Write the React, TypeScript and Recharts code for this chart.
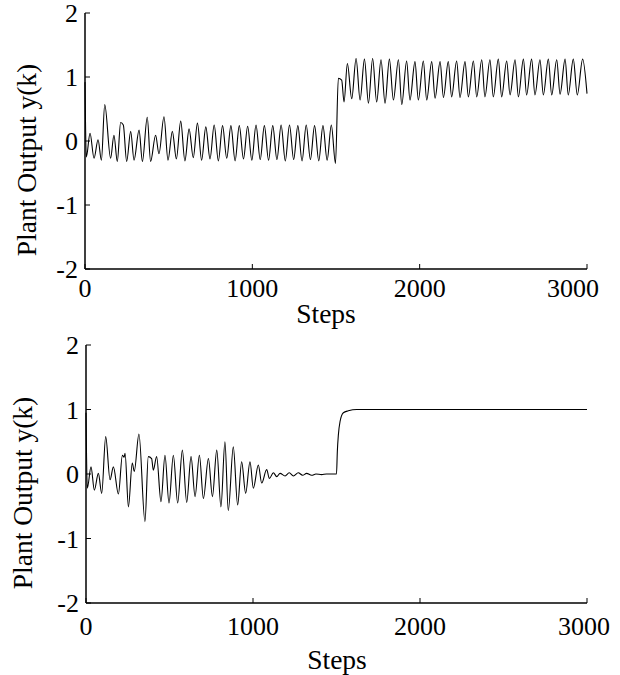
import React from 'react'
import { LineChart, Line, XAxis, YAxis } from 'recharts'

const FONT = '"Liberation Serif", "Times New Roman", serif'

const xTicks = [0, 1000, 2000, 3000]
const yTicks = [-2, -1, 0, 1, 2]

// upper plot, before the setpoint change (peaks / troughs)
const topStepsA = [0, 8, 30, 54, 78, 98, 118, 153, 173, 193, 213, 229, 249, 273, 293, 323, 343, 372, 392, 422, 442, 472, 496, 522, 546, 572, 597, 622, 647, 672, 697, 722, 747, 772, 797, 822, 847, 872, 897, 922, 947, 972, 997, 1022, 1047, 1072, 1097, 1122, 1147, 1172, 1197, 1222, 1247, 1272, 1297, 1322, 1347, 1372, 1397, 1422, 1447, 1472, 1497]
const topValuesA = [0.92, -0.25, 0.12, -0.27, 0.02, -0.3, 0.57, -0.27, 0.09, -0.32, 0.29, 0.25, -0.32, 0.15, -0.3, 0.17, -0.32, 0.37, -0.32, 0.09, -0.2, 0.38, -0.3, 0.15, -0.28, 0.31, -0.31, 0.19, -0.26, 0.28, -0.3, 0.22, -0.28, 0.25, -0.31, 0.24, -0.27, 0.24, -0.31, 0.24, -0.28, 0.23, -0.3, 0.25, -0.29, 0.24, -0.3, 0.24, -0.29, 0.25, -0.31, 0.25, -0.29, 0.24, -0.31, 0.25, -0.29, 0.24, -0.31, 0.24, -0.3, 0.25, -0.35]

// upper plot, after the setpoint change
const topStepsB = [1514, 1534, 1548, 1568, 1594, 1620, 1644, 1670, 1694, 1719, 1743, 1769, 1793, 1819, 1843, 1873, 1893, 1922, 1942, 1972, 1992, 2022, 2042, 2072, 2092, 2122, 2142, 2171, 2191, 2221, 2241, 2271, 2291, 2321, 2341, 2371, 2390, 2420, 2440, 2470, 2490, 2520, 2540, 2570, 2590, 2620, 2639, 2669, 2689, 2719, 2739, 2769, 2789, 2819, 2839, 2869, 2888, 2918, 2942, 2974, 3000]
const topValuesB = [0.98, 0.95, 0.61, 1.21, 0.66, 1.29, 0.64, 1.28, 0.59, 1.29, 0.61, 1.27, 0.59, 1.28, 0.64, 1.27, 0.57, 1.25, 0.64, 1.24, 0.64, 1.25, 0.64, 1.24, 0.67, 1.24, 0.68, 1.24, 0.69, 1.25, 0.68, 1.24, 0.69, 1.25, 0.69, 1.27, 0.69, 1.27, 0.69, 1.28, 0.69, 1.25, 0.72, 1.27, 0.69, 1.28, 0.72, 1.28, 0.72, 1.27, 0.72, 1.28, 0.72, 1.27, 0.73, 1.28, 0.72, 1.28, 0.72, 1.28, 0.74]

// lower plot, oscillation dying out
const botStepsA = [0, 8, 30, 50, 74, 94, 118, 144, 164, 194, 218, 228, 234, 254, 277, 289, 317, 353, 373, 393, 403, 423, 449, 473, 497, 523, 549, 577, 603, 629, 653, 679, 703, 733, 757, 783, 808, 832, 852, 882, 908, 932, 956, 982, 1002, 1032, 1052, 1082, 1098, 1122, 1142]
const botValuesA = [0.95, -0.22, 0.11, -0.25, 0.01, -0.3, 0.58, -0.09, 0.11, -0.31, 0.29, 0.26, 0.32, -0.51, 0.17, 0.04, 0.62, -0.74, 0.27, 0.24, 0.06, 0.27, -0.43, 0.29, -0.45, 0.29, -0.45, 0.37, -0.44, 0.27, -0.35, 0.29, -0.38, 0.24, -0.35, 0.37, -0.51, 0.5, -0.57, 0.42, -0.48, 0.19, -0.3, 0.19, -0.22, 0.14, -0.14, 0.07, -0.07, 0.02, -0.04]

// lower plot, settled then step to 1
const botStepsB = [1162, 1192, 1217, 1242, 1271, 1297, 1321, 1351, 1377, 1411, 1440, 1500, 1505, 1511, 1521, 1541, 1571, 1621, 3000]
const botValuesB = [0.01, -0.03, 0.02, -0.03, 0.02, -0.02, 0.01, -0.02, 0, -0.01, 0, 0, 0.35, 0.6, 0.81, 0.95, 0.98, 1, 1]

const toRows = (steps: number[], values: number[]) => steps.map((s, i) => ({ step: s, y: values[i] }))

const topRows = [...toRows(topStepsA, topValuesA), ...toRows(topStepsB, topValuesB)]
const botRows = [...toRows(botStepsA, botValuesA), ...toRows(botStepsB, botValuesB)]

const frame = { stroke: '#000', strokeWidth: 1.5 }
const TICK_FONT = 26
const LABEL_FONT = 27.5

function BottomTick(props: any) {
  const { x, y, payload, gap, lastShift } = props
  const dx = payload.value === 3000 ? lastShift : 0
  return (
    <g>
      <line x1={x} x2={x} y1={y} y2={y - 5} stroke="#000" />
      <text x={x + dx} y={y + gap} textAnchor="middle" fontSize={TICK_FONT} fontFamily={FONT} fill="#000">
        {payload.value}
      </text>
    </g>
  )
}

function TopTick(props: any) {
  const { x, y } = props
  return <line x1={x} x2={x} y1={y} y2={y + 5} stroke="#000" />
}

function LeftTick(props: any) {
  const { x, y, payload } = props
  return (
    <g>
      <line x1={x} x2={x + 5} y1={y} y2={y} stroke="#000" />
      <text x={x - 7} y={y + 9} textAnchor="end" fontSize={TICK_FONT} fontFamily={FONT} fill="#000">
        {payload.value}
      </text>
    </g>
  )
}

function RightTick(props: any) {
  const { x, y } = props
  return <line x1={x} x2={x - 5} y1={y} y2={y} stroke="#000" />
}

function Panel({ rows, top, height, marginTop, yWidth, xHeight, labelGap, lastShift }: any) {
  return (
    <div style={{ position: 'absolute', left: 0, top }}>
      <LineChart width={620} height={height} data={rows} margin={{ top: marginTop, right: 33, bottom: 0, left: 0 }}>
        <XAxis
          dataKey="step"
          type="number"
          domain={[0, 3000]}
          ticks={xTicks}
          interval={0}
          height={xHeight}
          tickSize={0}
          tickMargin={0}
          tickLine={false}
          axisLine={frame}
          tick={(p: any) => <BottomTick {...p} gap={labelGap} lastShift={lastShift} />}
        />
        <XAxis
          xAxisId="top"
          orientation="top"
          dataKey="step"
          type="number"
          domain={[0, 3000]}
          ticks={xTicks}
          interval={0}
          height={0}
          tickSize={0}
          tickMargin={0}
          tickLine={false}
          axisLine={frame}
          tick={(p: any) => <TopTick {...p} />}
        />
        <YAxis
          type="number"
          domain={[-2, 2]}
          ticks={yTicks}
          interval={0}
          width={yWidth}
          tickSize={0}
          tickMargin={0}
          tickLine={false}
          axisLine={frame}
          tick={(p: any) => <LeftTick {...p} />}
        />
        <YAxis
          yAxisId="right"
          orientation="right"
          type="number"
          domain={[-2, 2]}
          ticks={yTicks}
          interval={0}
          width={0}
          tickSize={0}
          tickMargin={0}
          tickLine={false}
          axisLine={frame}
          tick={(p: any) => <RightTick {...p} />}
        />
        <Line dataKey="y" type="monotone" dot={false} stroke="#000" strokeWidth={1.1} isAnimationActive={false} />
      </LineChart>
    </div>
  )
}

export default function App() {
  return (
    <div style={{ position: 'absolute', left: 0, top: 0, width: 620, height: 675, background: '#fff', fontFamily: FONT }}>
      <Panel rows={topRows} top={0} height={330} marginTop={13} yWidth={85} xHeight={61} labelGap={28} lastShift={-14} />
      <Panel rows={botRows} top={330} height={345} marginTop={15} yWidth={86} xHeight={72} labelGap={32} lastShift={-3} />
      <svg width={620} height={675} style={{ position: 'absolute', left: 0, top: 0, pointerEvents: 'none' }}>
        <g fontFamily={FONT} fontSize={LABEL_FONT} fill="#000">
          <text x={326} y={323} textAnchor="middle">Steps</text>
          <text x={337} y={669} textAnchor="middle">Steps</text>
          <text transform="translate(36,160) rotate(-90)" textAnchor="middle">Plant Output y(k)</text>
          <text transform="translate(32,493) rotate(-90)" textAnchor="middle">Plant Output y(k)</text>
        </g>
      </svg>
    </div>
  )
}
